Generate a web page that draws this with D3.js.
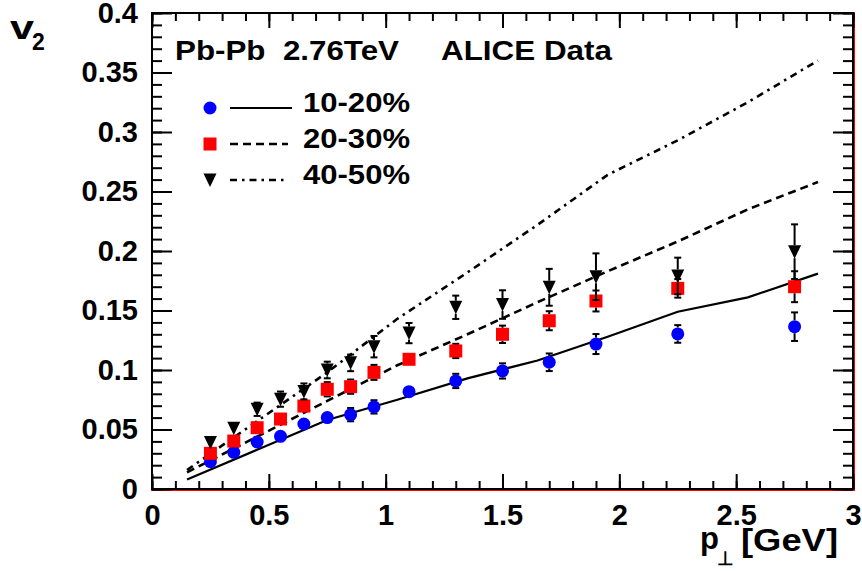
<!DOCTYPE html>
<html><head><meta charset="utf-8">
<script src="https://cdn.jsdelivr.net/npm/d3@7"></script>
<style>
body{margin:0;background:#fff}
svg{display:block}
text{font-family:"Liberation Sans",Arial,Helvetica,sans-serif;font-weight:bold;fill:#000}
</style>
</head><body>
<svg id="c" width="862" height="571"></svg>
<script>
// ---- data ----
const pt = [0.25,0.35,0.45,0.55,0.65,0.75,0.85,0.95,1.1,1.3,1.5,1.7,1.9,2.25,2.75];
const v2_10_20 = [0.023,0.0308,0.0395,0.0443,0.0546,0.060,0.0625,0.069,0.0818,0.0908,0.0992,0.1065,0.1218,0.1303,0.1364];
const err_10_20 = [0.003,0.003,0.003,0.003,0.003,0.004,0.0056,0.0056,0.004,0.006,0.0064,0.0074,0.0084,0.0074,0.012];
const v2_20_30 = [0.030,0.0403,0.0515,0.0588,0.0697,0.0838,0.086,0.098,0.109,0.116,0.130,0.1414,0.158,0.1686,0.170];
const err_20_30 = [0.003,0.003,0.004,0.004,0.005,0.006,0.006,0.0063,0.004,0.006,0.0073,0.008,0.0088,0.0078,0.013];
const v2_40_50 = [0.039,0.051,0.067,0.0755,0.082,0.100,0.106,0.1196,0.131,0.1527,0.155,0.1695,0.1784,0.179,0.1994];
const err_40_50 = [0.0036,0.0036,0.0056,0.0064,0.0067,0.007,0.007,0.009,0.0085,0.0098,0.012,0.0155,0.0196,0.0154,0.023];

const ptTheory = [0.15,0.45,0.75,1.05,1.35,1.65,1.95,2.25,2.55,2.85];
const th_10_20 = [0.008,0.033,0.058,0.075,0.093,0.108,0.128,0.149,0.161,0.181];
const th_20_30 = [0.014,0.044,0.074,0.104,0.130,0.157,0.183,0.208,0.235,0.258];
const th_40_50 = [0.016,0.057,0.098,0.143,0.182,0.222,0.264,0.293,0.325,0.360];

const xMajor = [0,0.5,1,1.5,2,2.5,3];
const xTickLabels = ["0","0.5","1","1.5","2","2.5","3"];
const xMinor = d3.range(0,31).map(i=>i/10);
const yMajor = [0,0.05,0.1,0.15,0.2,0.25,0.3,0.35,0.4];
const yTickLabels = ["0","0.05","0.1","0.15","0.2","0.25","0.3","0.35","0.4"];
const yMinor = d3.range(0,41).map(i=>i/100);

const seriesNames = ["10-20%","20-30%","40-50%"];
const seriesColors = ["#0000ff","#ff0000","#000000"];
const seriesMarkers = ["circle","square","triangle"];
const seriesDash = [null,"8,5","7,5,2.5,5"];

// ---- setup ----
const svg = d3.select("#c");
const x = d3.scaleLinear().domain([0,3]).range([152,853]);
const y = d3.scaleLinear().domain([0,0.4]).range([489,13]);

function styleAxis(g){
  g.select(".domain").remove();
  g.selectAll(".tick line").attr("stroke","#000").attr("stroke-width",2);
  g.selectAll(".tick text").attr("font-size",29).attr("font-family",null).attr("font-weight","bold").attr("fill","#000");
}

// red frame edge
svg.append("line").attr("x1",151).attr("x2",855).attr("y1",490.5).attr("y2",490.5).attr("stroke","#ff0000").attr("stroke-width",1);
svg.append("line").attr("x1",854.5).attr("x2",854.5).attr("y1",12).attr("y2",491).attr("stroke","#ff0000").attr("stroke-width",1);

// axes
svg.append("g").attr("transform","translate(0,489)")
  .call(d3.axisBottom(x).tickValues(xMinor).tickFormat("").tickSize(-8)).call(styleAxis);
svg.append("g").attr("transform","translate(0,489)")
  .call(d3.axisBottom(x).tickValues(xMajor).tickFormat((d,i)=>xTickLabels[i]).tickSize(-15).tickPadding(15)).call(styleAxis);
svg.append("g").attr("transform","translate(0,13)")
  .call(d3.axisTop(x).tickValues(xMinor).tickFormat("").tickSize(-8)).call(styleAxis);
svg.append("g").attr("transform","translate(0,13)")
  .call(d3.axisTop(x).tickValues(xMajor).tickFormat("").tickSize(-15)).call(styleAxis);
svg.append("g").attr("transform","translate(152,0)")
  .call(d3.axisLeft(y).tickValues(yMinor).tickFormat("").tickSize(-10)).call(styleAxis);
svg.append("g").attr("transform","translate(152,0)")
  .call(d3.axisLeft(y).tickValues(yMajor).tickFormat((d,i)=>yTickLabels[i]).tickSize(-20).tickPadding(14)).call(styleAxis);
svg.append("g").attr("transform","translate(853,0)")
  .call(d3.axisRight(y).tickValues(yMinor).tickFormat("").tickSize(-10)).call(styleAxis);
svg.append("g").attr("transform","translate(853,0)")
  .call(d3.axisRight(y).tickValues(yMajor).tickFormat("").tickSize(-20)).call(styleAxis);

// frame
svg.append("rect").attr("x",152).attr("y",13).attr("width",701).attr("height",476)
  .attr("fill","none").attr("stroke","#000").attr("stroke-width",2);

// theory curves
const theory = [th_10_20, th_20_30, th_40_50];
const line = d3.line().x(d=>x(d[0])).y(d=>y(d[1]));
theory.forEach((vals,k)=>{
  svg.append("path").datum(ptTheory.map((p,i)=>[p,vals[i]]))
    .attr("d",line).attr("fill","none").attr("stroke","#000").attr("stroke-width",k===0?2.2:2.6)
    .attr("stroke-dasharray",seriesDash[k]);
});

// markers
const MS = 6.5;
function drawMarker(g,type,cx,cy,color){
  if(type==="circle"){
    g.append("circle").attr("cx",cx).attr("cy",cy).attr("r",MS).attr("fill",color);
  } else if(type==="square"){
    g.append("rect").attr("x",cx-MS).attr("y",cy-MS).attr("width",2*MS).attr("height",2*MS).attr("fill",color);
  } else {
    g.append("path").attr("d",`M${cx-6.5},${cy-6.5}L${cx+6.5},${cy-6.5}L${cx},${cy+7}Z`).attr("fill",color);
  }
}

const dataV = [v2_10_20, v2_20_30, v2_40_50];
const dataE = [err_10_20, err_20_30, err_40_50];
dataV.forEach((vals,k)=>{
  const g = svg.append("g");
  pt.forEach((p,i)=>{
    const cx = x(p), cy = y(vals[i]);
    const yt = y(vals[i]+dataE[k][i]), yb = y(vals[i]-dataE[k][i]);
    if(cy-yt > MS){
      g.append("line").attr("x1",cx).attr("x2",cx).attr("y1",cy-MS).attr("y2",yt).attr("stroke","#000").attr("stroke-width",2);
      g.append("line").attr("x1",cx-3.5).attr("x2",cx+3.5).attr("y1",yt).attr("y2",yt).attr("stroke","#000").attr("stroke-width",2);
      g.append("line").attr("x1",cx).attr("x2",cx).attr("y1",cy+MS).attr("y2",yb).attr("stroke","#000").attr("stroke-width",2);
      g.append("line").attr("x1",cx-3.5).attr("x2",cx+3.5).attr("y1",yb).attr("y2",yb).attr("stroke","#000").attr("stroke-width",2);
    }
    drawMarker(g,seriesMarkers[k],cx,cy,seriesColors[k]);
  });
});

// header texts
svg.append("text").attr("x",175).attr("y",60).attr("font-size",28).style("white-space","pre")
  .attr("textLength",224).attr("lengthAdjust","spacingAndGlyphs").text("Pb-Pb  2.76TeV");
svg.append("text").attr("x",441).attr("y",60).attr("font-size",28)
  .attr("textLength",171).attr("lengthAdjust","spacingAndGlyphs").text("ALICE Data");

// legend
const legY = [108,144,180];
seriesNames.forEach((name,k)=>{
  const g = svg.append("g");
  drawMarker(g,seriesMarkers[k],210,legY[k],seriesColors[k]);
  g.append("line").attr("x1",230).attr("x2",k===0?292:288).attr("y1",legY[k]).attr("y2",legY[k])
    .attr("stroke","#000").attr("stroke-width",k===0?2.2:2.6).attr("stroke-dasharray",seriesDash[k]);
  g.append("text").attr("x",303).attr("y",legY[k]+4).attr("font-size",28)
    .attr("textLength",107).attr("lengthAdjust","spacingAndGlyphs").text(name);
});

// axis titles
svg.append("text").attr("x",10).attr("y",39).attr("font-size",33)
  .attr("textLength",24).attr("lengthAdjust","spacingAndGlyphs").text("v");
svg.append("text").attr("x",32).attr("y",50).attr("font-size",23).text("2");

svg.append("text").attr("x",700).attr("y",549).attr("font-size",31).text("p");
svg.append("text").attr("x",717).attr("y",565).attr("font-size",19).attr("font-family","DejaVu Sans").text("⊥");
svg.append("text").attr("x",741).attr("y",551).attr("font-size",31)
  .attr("textLength",97).attr("lengthAdjust","spacingAndGlyphs").text("[GeV]");
</script>
</body></html>
